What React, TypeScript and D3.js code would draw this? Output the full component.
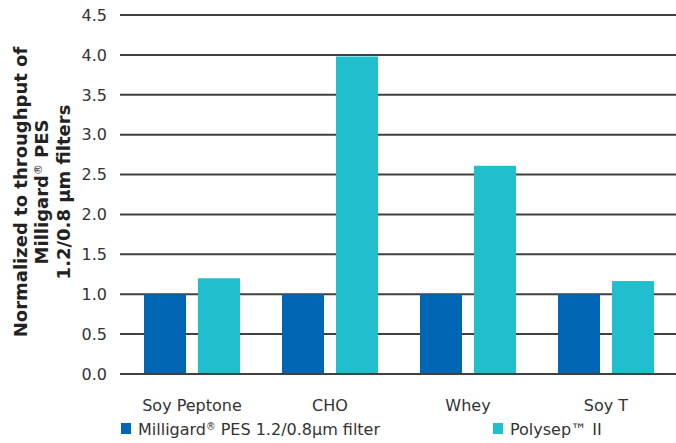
import React from "react";
import * as d3 from "d3";

const categories = ["Soy Peptone", "CHO", "Whey", "Soy T"];
const seriesNames = ["Milligard", "Polysep™ II"];
const milligard = [1.0, 1.0, 1.0, 1.0];
const polysep = [1.2, 3.98, 2.61, 1.165];
const yTicks = [0, 0.5, 1.0, 1.5, 2.0, 2.5, 3.0, 3.5, 4.0, 4.5];
const colors = ["#0066b3", "#21bfcd"];

export default function App() {
  const W = 676, H = 443;
  const font = "Verdana, 'DejaVu Sans', sans-serif";
  const y = d3.scaleLinear().domain([0, 4.5]).range([374, 15]);
  const x = d3.scaleBand().domain(categories).range([123, 675]).paddingInner(0).paddingOuter(0);
  const barW = 42, gap = 12;
  const series = [milligard, polysep];
  const reg = (size: number) => (
    <tspan fontSize={size * 0.6} baselineShift="super" fontWeight="normal">®</tspan>
  );
  return (
    <svg width={W} height={H} style={{ position: "absolute", left: 0, top: 0, background: "#fff" }}>
      <rect width={W} height={H} fill="#fff" />
      {yTicks.map((t) => (
        <g key={t}>
          <line x1={120} x2={676} y1={y(t)} y2={y(t)} stroke="#404040" strokeWidth={2} />
          <text x={107} y={y(t)} dy="0.36em" textAnchor="end" fontFamily={font} fontSize={16} fill="#333">
            {d3.format(".1f")(t)}
          </text>
        </g>
      ))}
      {categories.map((c, i) => {
        const x0 = x(c)!;
        const start = x0 + (x.bandwidth() - (2 * barW + gap)) / 2;
        return (
          <g key={c}>
            {series.map((s, j) => (
              <rect
                key={j}
                x={start + j * (barW + gap)}
                y={y(s[i])}
                width={barW}
                height={y(0) - y(s[i])}
                fill={colors[j]}
              />
            ))}
            <text x={x0 + x.bandwidth() / 2} y={411} textAnchor="middle" fontFamily={font} fontSize={16} fill="#333">
              {c}
            </text>
          </g>
        );
      })}
      <line x1={120} x2={676} y1={y(0)} y2={y(0)} stroke="#404040" strokeWidth={2} />
      <g transform="translate(42,192) rotate(-90)" fontFamily={font} fontSize={18} fontWeight="bold" fill="#222">
        <text x={0} y={-21.5} dy="0.35em" textAnchor="middle">Normalized to throughput of</text>
        <text x={0} y={0} dy="0.35em" textAnchor="middle">Milligard{reg(18)} PES</text>
        <text x={0} y={21.5} dy="0.35em" textAnchor="middle">1.2/0.8 µm filters</text>
      </g>
      <g>
        <rect x={121} y={423} width={10} height={11} fill={colors[0]} />
        <text x={138} y={435} fontFamily={font} fontSize={16} fill="#333">
          {seriesNames[0]}{reg(16)} PES 1.2/0.8µm filter
        </text>
        <rect x={493} y={423} width={10} height={11} fill={colors[1]} />
        <text x={510} y={435} fontFamily={font} fontSize={16} fill="#333">
          {seriesNames[1]}
        </text>
      </g>
    </svg>
  );
}
